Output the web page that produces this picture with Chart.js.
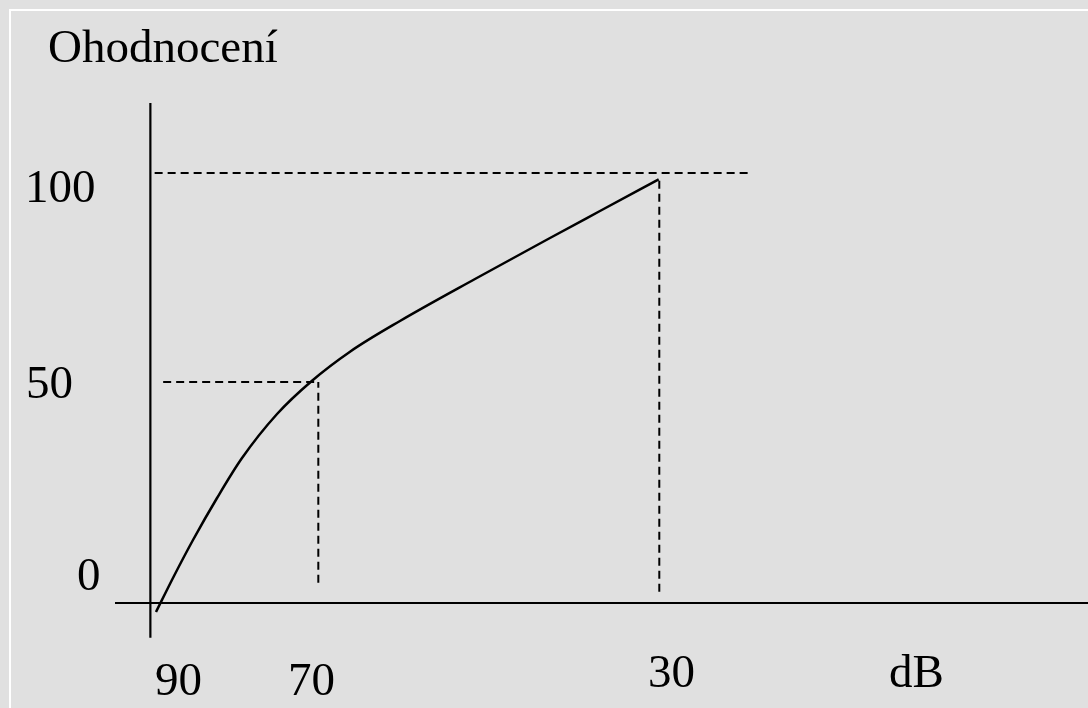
<!DOCTYPE html>
<html>
<head>
<meta charset="utf-8">
<script src="https://cdn.jsdelivr.net/npm/chart.js@4/dist/chart.umd.min.js"></script>
<style>
  html, body { margin: 0; padding: 0; background: #e0e0e0; overflow: hidden; }
  canvas { display: block; }
</style>
</head>
<body>
<canvas id="c" width="1088" height="708"></canvas>
<script>
// ---- data (dB on x, score "Ohodnocení" on y) ----
const curveDb    = [89.04, 86.93, 84.70, 81.88, 78.99, 74.84, 70.77, 66.28, 60.42, 51.62, 42.82, 36.96, 30.07];
const curveScore = [-2.09, 6.28, 14.65, 24.42, 33.60, 43.95, 51.63, 58.44, 65.58, 75.35, 84.88, 91.16, 98.53];

// dashed guide lines
const guideHScore = [51.4, 100];
const guideHFrom  = [88.2, 89.2];
const guideHTo    = [70, 19.6];
const guideVDb    = [70, 30];
const guideVFrom  = [4.7, 2.6];
const guideVTo    = [51.4, 98.4];

// axes lines
const axisXDb    = [93.85, -21];
const axisXScore = [0, 0];
const axisYDb    = [89.7, 89.7];
const axisYScore = [116.3, -8.1];

// labels
const yTickLabels = ['100', '50', '0'];
const xTickLabels = ['90', '70', '30'];
const yAxisTitle = 'Ohodnocení';
const xAxisTitle = 'dB';

// ---- layout of text (pixels) ----
const textLayout = [
  { t: yAxisTitle,     x: 48,  y: 62 },
  { t: yTickLabels[0], x: 25,  y: 202 },
  { t: yTickLabels[1], x: 26,  y: 398 },
  { t: yTickLabels[2], x: 77,  y: 590 },
  { t: xTickLabels[0], x: 155, y: 695 },
  { t: xTickLabels[1], x: 288, y: 695 },
  { t: xTickLabels[2], x: 648, y: 687 },
  { t: xAxisTitle,     x: 889, y: 687 }
];

const zip = (xs, ys) => xs.map((x, i) => ({ x: x, y: ys[i] }));

const datasets = [];
datasets.push({ data: zip(curveDb, curveScore), borderColor: '#000', borderWidth: 2.5,
  cubicInterpolationMode: 'monotone' });
datasets.push({ data: zip(axisXDb, axisXScore), borderColor: '#000', borderWidth: 2.2, tension: 0 });
datasets.push({ data: zip(axisYDb, axisYScore), borderColor: '#000', borderWidth: 2.2, tension: 0 });
guideHScore.forEach((s, i) => {
  datasets.push({ data: [{ x: guideHFrom[i], y: s }, { x: guideHTo[i], y: s }],
    borderColor: '#000', borderWidth: 2, borderDash: [8, 5], tension: 0 });
});
guideVDb.forEach((d, i) => {
  datasets.push({ data: [{ x: d, y: guideVFrom[i] }, { x: d, y: guideVTo[i] }],
    borderColor: '#000', borderWidth: 2, borderDash: [8, 5], tension: 0 });
});
datasets.forEach(ds => { ds.showLine = true; ds.pointRadius = 0; ds.fill = false; });

const decor = {
  id: 'decor',
  beforeDraw(chart) {
    const ctx = chart.ctx;
    ctx.save();
    ctx.fillStyle = '#e0e0e0';
    ctx.fillRect(0, 0, chart.width, chart.height);
    ctx.fillStyle = '#ffffff';
    ctx.fillRect(9, 9, chart.width - 9, 2);
    ctx.fillRect(9, 9, 2, chart.height - 9);
    ctx.restore();
  },
  afterDraw(chart) {
    const ctx = chart.ctx;
    ctx.save();
    ctx.fillStyle = '#000';
    ctx.font = '47px "Liberation Serif", "Times New Roman", serif';
    ctx.textAlign = 'left';
    ctx.textBaseline = 'alphabetic';
    textLayout.forEach(l => ctx.fillText(l.t, l.x, l.y));
    ctx.restore();
  }
};

new Chart(document.getElementById('c'), {
  type: 'scatter',
  data: { datasets: datasets },
  options: {
    responsive: false,
    animation: false,
    devicePixelRatio: 1,
    layout: { padding: 0 },
    plugins: { legend: { display: false }, tooltip: { enabled: false } },
    scales: {
      x: { type: 'linear', reverse: true, min: -20.29, max: 107.34, display: false },
      y: { type: 'linear', min: -24.42, max: 140.23, display: false }
    }
  },
  plugins: [decor]
});
</script>
</body>
</html>
